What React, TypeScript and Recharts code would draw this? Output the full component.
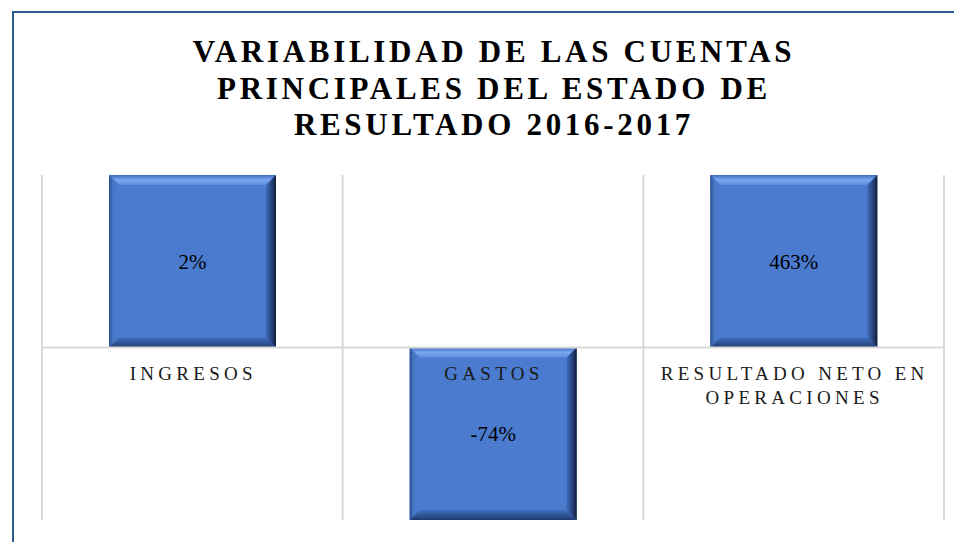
import { BarChart, Bar, XAxis, YAxis, CartesianGrid, ReferenceLine, LabelList } from 'recharts'

// categorias del estado de resultado
const categorias = ['INGRESOS', 'GASTOS', 'RESULTADO NETO EN OPERACIONES']
// variacion 2016-2017 mostrada sobre cada barra (%)
const variacionPct = [2, -74, 463]
// altura de barra tal como se dibuja (eje recortado a +-1)
const alturaBarra = [1, -1, 1]

const tituloLineas = ['VARIABILIDAD DE LAS CUENTAS', 'PRINCIPALES DEL ESTADO DE', 'RESULTADO 2016-2017']

const data = categorias.map((c, i) => ({
  categoria: c,
  altura: alturaBarra[i],
  etiqueta: `${variacionPct[i]}%`,
}))

const W = 954
const H = 542
const M = { top: 175, right: 10, bottom: 21, left: 42 }
const PLOT_H = H - M.top - M.bottom - 1
const ZERO_Y = M.top + PLOT_H / 2
const SERIF = 'Liberation Serif, DejaVu Serif, serif'

function wrap(text: string, max: number) {
  const lines: string[] = []
  let cur = ''
  for (const w of text.split(' ')) {
    const next = cur ? cur + ' ' + w : w
    if (next.length > max && cur) {
      lines.push(cur)
      cur = w
    } else cur = next
  }
  if (cur) lines.push(cur)
  return lines
}

function CategoryTick(props: any) {
  const { x, payload } = props
  const lines = wrap(payload.value, 17)
  return (
    <g>
      {lines.map((l, i) => (
        <text key={i} x={x + 1} y={ZERO_Y + 32.5 + i * 24} textAnchor="middle"
          fill="#1a1a1a" fontSize={19} fontFamily={SERIF} letterSpacing={4.3}>
          {l}
        </text>
      ))}
    </g>
  )
}

function BevelBar(props: any) {
  let { x, y, width: w, height: h, index } = props
  if (h < 0) { y += h; h = -h }
  const b = 10
  const id = `bv${index}`
  return (
    <g>
      <defs>
        <linearGradient id={`${id}t`} x1="0" y1="0" x2="0" y2="1">
          <stop offset="0" stopColor="#3d6cbf" />
          <stop offset="0.5" stopColor="#7ba7ee" />
          <stop offset="1" stopColor="#5a8ce0" />
        </linearGradient>
        <linearGradient id={`${id}l`} x1="0" y1="0" x2="1" y2="0">
          <stop offset="0" stopColor="#2b4f90" />
          <stop offset="0.4" stopColor="#4877c8" />
          <stop offset="1" stopColor="#4c7dd0" />
        </linearGradient>
        <linearGradient id={`${id}r`} x1="0" y1="0" x2="1" y2="0">
          <stop offset="0" stopColor="#3f6bb8" />
          <stop offset="0.6" stopColor="#24407a" />
          <stop offset="1" stopColor="#111d36" />
        </linearGradient>
        <linearGradient id={`${id}b`} x1="0" y1="0" x2="0" y2="1">
          <stop offset="0" stopColor="#4170bf" />
          <stop offset="0.6" stopColor="#2d5090" />
          <stop offset="1" stopColor="#1f3a6d" />
        </linearGradient>
      </defs>
      <rect x={x} y={y} width={w} height={h} fill="#4a7bcf" />
      <polygon points={`${x},${y} ${x + w},${y} ${x + w - b},${y + b} ${x + b},${y + b}`} fill={`url(#${id}t)`} />
      <polygon points={`${x},${y} ${x + b},${y + b} ${x + b},${y + h - b} ${x},${y + h}`} fill={`url(#${id}l)`} />
      <polygon points={`${x + w},${y} ${x + w},${y + h} ${x + w - b},${y + h - b} ${x + w - b},${y + b}`} fill={`url(#${id}r)`} />
      <polygon points={`${x},${y + h} ${x + w},${y + h} ${x + w - b},${y + h - b} ${x + b},${y + h - b}`} fill={`url(#${id}b)`} />
    </g>
  )
}

export default function App() {
  return (
    <div style={{ position: 'fixed', left: 0, top: 0, width: W, height: H, overflow: 'hidden', background: '#fff' }}>
      <div style={{
        position: 'absolute', left: 12, top: 11, width: 1000, height: 600,
        borderLeft: '2px solid #2e5b8e', borderTop: '2px solid #2e5b8e',
      }} />
      <div style={{
        position: 'absolute', left: 0, top: 34, width: 984, textAlign: 'center',
        fontFamily: SERIF, fontWeight: 'bold', fontSize: 31, lineHeight: '36.5px',
        letterSpacing: 3.7, color: '#000', paddingLeft: 4, boxSizing: 'border-box',
      }}>
        {tituloLineas.map((t) => <div key={t}>{t}</div>)}
      </div>
      <div style={{ position: 'absolute', left: 0, top: 0 }}>
        <BarChart width={W} height={H} data={data} margin={M}>
          <CartesianGrid horizontal={false} stroke="#d9d9d9" strokeWidth={2}
            verticalCoordinatesGenerator={({ offset }: any) =>
              [0, 1, 2, 3].map((i) => offset.left + (i * offset.width) / 3)} />
          <YAxis hide domain={[-1, 1]} />
          <ReferenceLine y={0} stroke="#d9d9d9" strokeWidth={2} />
          <Bar dataKey="altura" barSize={167} shape={<BevelBar />} isAnimationActive={false}>
            <LabelList dataKey="etiqueta" position="center" fill="#000"
              fontSize={21} fontFamily={SERIF} />
          </Bar>
          <XAxis dataKey="categoria" axisLine={false} tickLine={false} interval={0} height={1}
            tick={<CategoryTick />} />
        </BarChart>
      </div>
    </div>
  )
}
